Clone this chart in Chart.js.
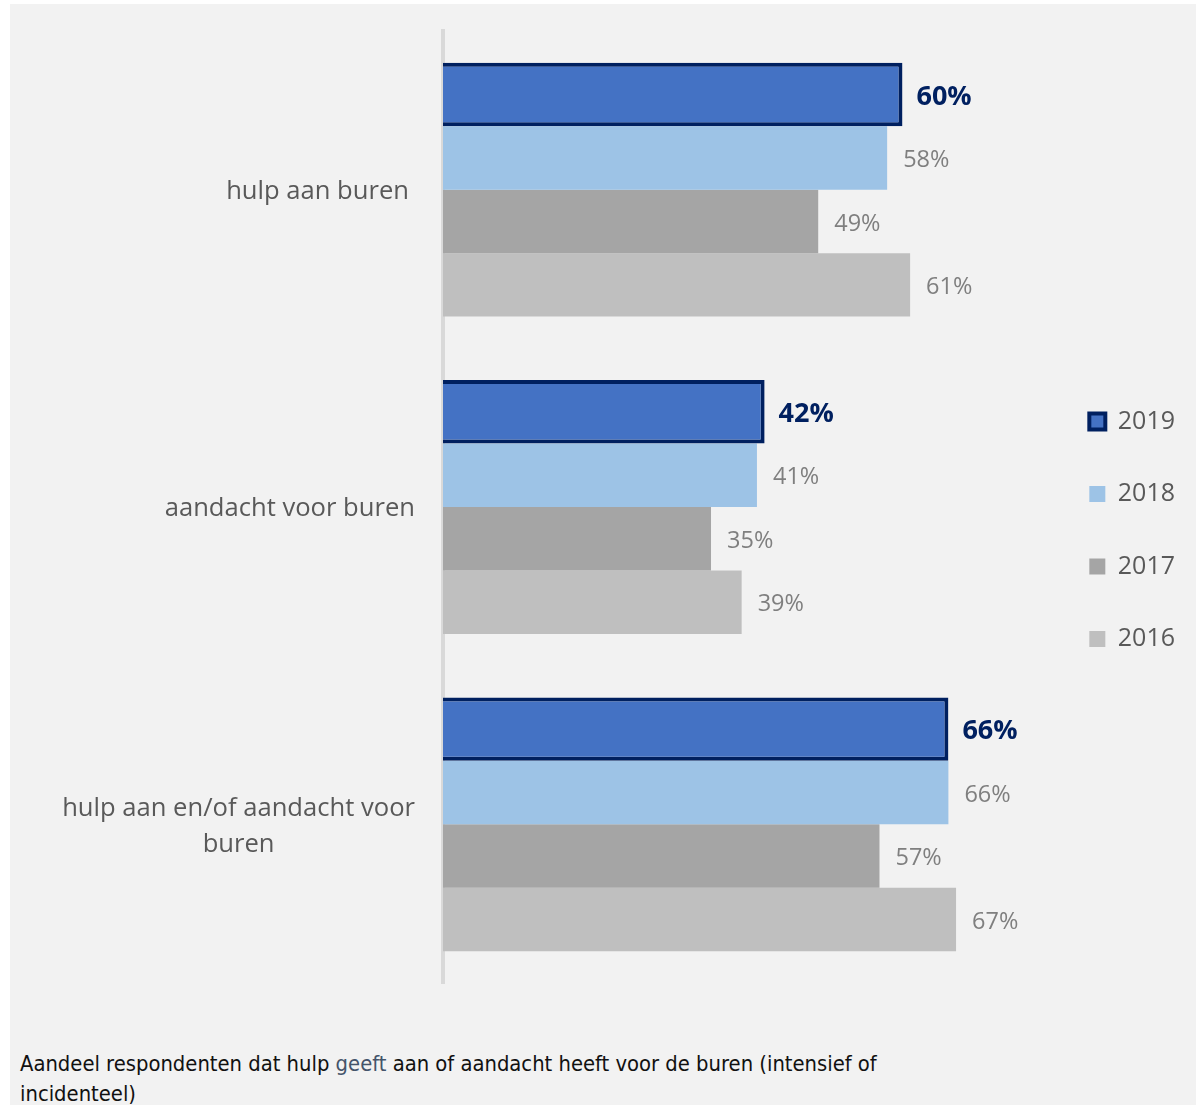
<!DOCTYPE html>
<html>
<head>
<meta charset="utf-8">
<script src="https://cdn.jsdelivr.net/npm/chart.js@4.4.1/dist/chart.umd.min.js"></script>
<style>
  body { margin: 0; background: #ffffff; }
  #panel { position: absolute; left: 10px; top: 4px; width: 1186px; height: 1101px; background: #f2f2f2; overflow: hidden; }
  #wrap { position: relative; width: 1186px; height: 1040px; }
  #caption { position: absolute; left: 10px; top: 1045px; font-family: "Liberation Sans Narrow", "DejaVu Sans Condensed", sans-serif; font-size: 21.8px; line-height: 30px; color: #111111; }
  #caption span { color: #44546a; }
</style>
</head>
<body>
<div id="panel">
  <div id="wrap"><canvas id="chart"></canvas></div>
  <div id="caption">Aandeel respondenten dat hulp <span>geeft</span> aan of aandacht heeft voor de buren (intensief of<br>incidenteel)</div>
</div>
<script>
var categories = ["hulp aan buren", "aandacht voor buren", ["hulp aan en/of aandacht voor", "buren"]];
var years = ["2019", "2018", "2017", "2016"];
var v2019 = [60, 42, 66];
var v2018 = [58, 41, 66];
var v2017 = [49, 35, 57];
var v2016 = [61, 39, 67];

var colors = ["#4472c4", "#9dc3e6", "#a5a5a5", "#bfbfbf"];
var series = [v2019, v2018, v2017, v2016];

var datasets = years.map(function (y, i) {
    return {
        label: y,
        data: series[i],
        backgroundColor: colors[i],
        borderColor: i === 0 ? "#002060" : colors[i],
        borderWidth: i === 0 ? 4 : 0,
        barPercentage: 1,
        categoryPercentage: 0.8
    };
});

// value labels at the end of each bar
var valueLabels = {
    id: "valueLabels",
    afterDatasetsDraw: function (chart) {
        var ctx = chart.ctx;
        chart.data.datasets.forEach(function (ds, i) {
            var meta = chart.getDatasetMeta(i);
            meta.data.forEach(function (bar, j) {
                ctx.save();
                ctx.font = i === 0 ? 'bold 27px "Open Sans"' : '23.5px "Open Sans"';
                ctx.fillStyle = i === 0 ? "#002060" : "#7f7f7f";
                ctx.textBaseline = "middle";
                ctx.textAlign = "left";
                ctx.fillText(ds.data[j] + "%", bar.x + (i === 0 ? 14 : 16), bar.y + 2.5);
                ctx.restore();
            });
        });
    }
};

// category names, each centred on itself, right edge near the axis
var catLabels = {
    id: "catLabels",
    afterDraw: function (chart) {
        var ctx = chart.ctx;
        var yScale = chart.scales.y;
        var rightEdge = 405;
        var lineH = 36;
        ctx.save();
        ctx.font = '25.6px "Open Sans"';
        ctx.fillStyle = "#595959";
        ctx.textBaseline = "middle";
        ctx.textAlign = "center";
        chart.data.labels.forEach(function (lab, i) {
            var lines = Array.isArray(lab) ? lab : [lab];
            var w = 0;
            lines.forEach(function (l) { w = Math.max(w, ctx.measureText(l).width); });
            var cx = (i === 0 ? rightEdge - 6 : rightEdge) - w / 2;
            var cy = yScale.getPixelForValue(i) + 2;
            var y0 = cy - (lines.length - 1) * lineH / 2;
            lines.forEach(function (l, k) {
                ctx.fillText(l, cx, y0 + k * lineH);
            });
        });
        ctx.restore();
    }
};

var ctx1 = document.getElementById("chart");

var chart1 = new Chart(ctx1, {
    type: "bar",
    data: { labels: categories, datasets: datasets },
    options: {
        indexAxis: "y",
        responsive: true,
        maintainAspectRatio: false,
        animation: false,
        layout: { padding: { left: 433, right: 11, top: 27, bottom: 61 } },
        scales: {
            x: { display: false, min: 0, max: 78.2 },
            y: {
                ticks: { display: false },
                grid: { display: false, drawTicks: false },
                border: { display: true, color: "#d9d9d9", width: 4 }
            }
        },
        plugins: {
            tooltip: { enabled: false },
            legend: {
                display: true,
                position: "right",
                title: { display: true, text: "", padding: { top: 0, bottom: 32 } },
                labels: {
                    boxWidth: 16,
                    boxHeight: 16,
                    padding: 47.5,
                    color: "#595959",
                    font: { family: "Open Sans", size: 25 }
                }
            }
        }
    },
    plugins: [valueLabels, catLabels]
});
</script>
</body>
</html>
